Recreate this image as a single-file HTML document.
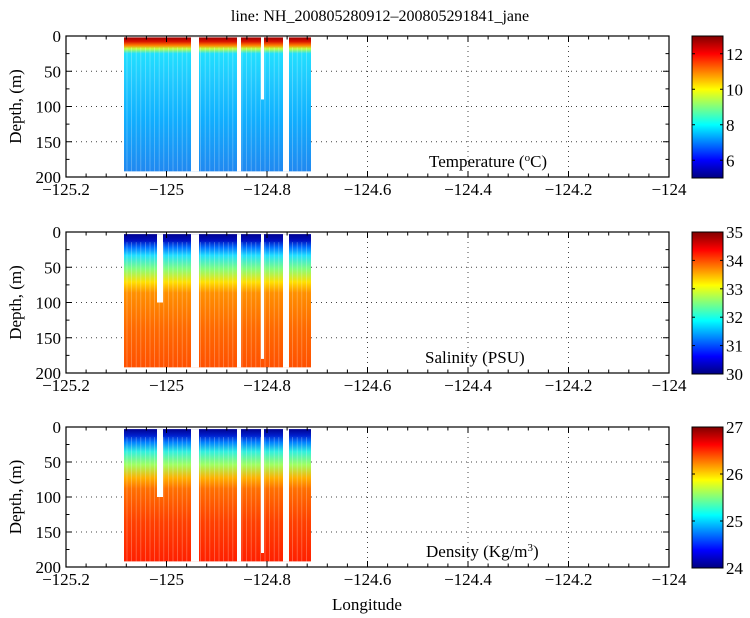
<!DOCTYPE html>
<html><head><meta charset="utf-8"><style>
html,body{margin:0;padding:0;background:#fff;}
svg{display:block;font-family:"Liberation Serif",serif;}
</style></head><body>
<svg id="s" width="750" height="618" xmlns="http://www.w3.org/2000/svg">
<defs>
<linearGradient id="gT" x1="0" y1="0" x2="0" y2="1">
<stop offset="0" stop-color="#a00000"/><stop offset="0.03" stop-color="#d81000"/><stop offset="0.06" stop-color="#ff8000"/><stop offset="0.085" stop-color="#c0ff40"/><stop offset="0.12" stop-color="#20e0ff"/><stop offset="0.3" stop-color="#20ccff"/><stop offset="0.6" stop-color="#10b0ff"/><stop offset="1" stop-color="#2088f0"/>
</linearGradient>
<linearGradient id="gS" x1="0" y1="0" x2="0" y2="1">
<stop offset="0" stop-color="#000090"/><stop offset="0.05" stop-color="#0010c0"/><stop offset="0.1" stop-color="#0070ff"/><stop offset="0.16" stop-color="#20e0ff"/><stop offset="0.26" stop-color="#80ff80"/><stop offset="0.36" stop-color="#ffe000"/><stop offset="0.44" stop-color="#ff9000"/><stop offset="0.7" stop-color="#ff6a00"/><stop offset="1" stop-color="#ff5000"/>
</linearGradient>
<linearGradient id="gD" x1="0" y1="0" x2="0" y2="1">
<stop offset="0" stop-color="#000090"/><stop offset="0.05" stop-color="#0020d0"/><stop offset="0.1" stop-color="#0080ff"/><stop offset="0.17" stop-color="#30f0e0"/><stop offset="0.27" stop-color="#a0ff60"/><stop offset="0.37" stop-color="#ffb000"/><stop offset="0.45" stop-color="#ff7000"/><stop offset="0.7" stop-color="#ff4000"/><stop offset="1" stop-color="#ff2000"/>
</linearGradient>
<linearGradient id="jet" x1="0" y1="1" x2="0" y2="0">
<stop offset="0" stop-color="#000080"/><stop offset="0.125" stop-color="#0000ff"/><stop offset="0.375" stop-color="#00ffff"/><stop offset="0.625" stop-color="#ffff00"/><stop offset="0.875" stop-color="#ff0000"/><stop offset="1" stop-color="#800000"/>
</linearGradient>
</defs>
<text x="380" y="21" font-size="16" text-anchor="middle">line: NH_200805280912–200805291841_jane</text>
<g id="g"></g>
</svg>
<script>
var g=document.getElementById('g'),h='';
var X0=66,X1=669;function xp(v){return X0+(v+125.2)/1.2*(X1-X0);}
var panels=[{t:36,b:177,gr:'gT',cb:[5,13],ticks:[6,8,10,12],lab:'Temperature (<tspan baseline-shift="super" font-size="11">o</tspan>C)',part:[[261,264,0.45]]},
{t:232,b:373,gr:'gS',cb:[30,35],ticks:[30,31,32,33,34,35],lab:'Salinity (PSU)',part:[[157,163,0.5],[261,264,0.9]]},
{t:427,b:567,gr:'gD',cb:[24,27],ticks:[24,25,26,27],lab:'Density (Kg/m<tspan baseline-shift="super" font-size="11">3</tspan>)',part:[[157,163,0.5],[261,264,0.9]]}];
panels.forEach(function(p,i){
 var H=p.b-p.t;function yp(d){return p.t+d/200*H;}
 [-125,-124.8,-124.6,-124.4,-124.2].forEach(function(v){h+='<line x1="'+xp(v)+'" y1="'+p.t+'" x2="'+xp(v)+'" y2="'+p.b+'" stroke="#444" stroke-width="1" stroke-dasharray="1,4"/>';});
 [50,100,150].forEach(function(d){h+='<line x1="'+X0+'" y1="'+yp(d)+'" x2="'+X1+'" y2="'+yp(d)+'" stroke="#444" stroke-width="1" stroke-dasharray="1,4"/>';});
 var top=yp(i==0?2:3),bot=yp(192);
 h+='<rect x="124" y="'+top+'" width="187" height="'+(bot-top)+'" fill="url(#'+p.gr+')"/>';
 for(var x=127;x<311;x+=4.6){h+='<line x1="'+x+'" y1="'+(top+(i==0?10:8))+'" x2="'+x+'" y2="'+bot+'" stroke="#fff" stroke-width="0.8" opacity="0.3"/>';}
 [[191,199,1],[237,241,1],[283,289,1]].concat(p.part).forEach(function(q){var y2=q[2]>=1?bot:yp(q[2]*200);h+='<rect x="'+q[0]+'" y="'+top+'" width="'+(q[1]-q[0])+'" height="'+(y2-top)+'" fill="#fff"/>';});
 h+='<rect x="'+X0+'" y="'+p.t+'" width="'+(X1-X0)+'" height="'+H+'" fill="none" stroke="#000" stroke-width="1.2"/>';
 for(var v=-125.2;v<=-123.99;v+=0.04){var xx=xp(v),maj=Math.abs(Math.round(v*5)-v*5)<0.01,L=maj?6:3.5;
  h+='<line x1="'+xx+'" y1="'+p.b+'" x2="'+xx+'" y2="'+(p.b-L)+'" stroke="#000"/><line x1="'+xx+'" y1="'+p.t+'" x2="'+xx+'" y2="'+(p.t+L)+'" stroke="#000"/>';
  if(maj){var r=Math.round(v*10)/10;var s=(r==-125||r==-124)?String(r):r.toFixed(1);h+='<text x="'+xx+'" y="'+(p.b+18)+'" font-size="17" text-anchor="middle">'+s.replace('-','\u2212')+'</text>';}}
 for(var d=0;d<=200;d+=25){var yy=yp(d),L=d%50==0?6:3.5;h+='<line x1="'+X0+'" y1="'+yy+'" x2="'+(X0+L)+'" y2="'+yy+'" stroke="#000"/><line x1="'+X1+'" y1="'+yy+'" x2="'+(X1-L)+'" y2="'+yy+'" stroke="#000"/>';
  if(d%50==0)h+='<text x="'+(X0-5)+'" y="'+(yy+6)+'" font-size="17" text-anchor="end">'+d+'</text>';}
 h+='<text transform="translate(21,'+(p.t+H/2)+') rotate(-90)" font-size="17" text-anchor="middle">Depth, (m)</text>';
 h+='<text x="'+(i==0?429:i==1?425:426)+'" y="'+(p.b-10)+'" font-size="17">'+p.lab+'</text>';
 h+='<rect x="692" y="'+p.t+'" width="31" height="'+(H+1)+'" fill="url(#jet)" stroke="#000" stroke-width="1"/>';
 p.ticks.forEach(function(v){var yy=p.b+1-(v-p.cb[0])/(p.cb[1]-p.cb[0])*(H+1);h+='<line x1="692" y1="'+yy+'" x2="695" y2="'+yy+'" stroke="#000"/><line x1="723" y1="'+yy+'" x2="720" y2="'+yy+'" stroke="#000"/><text x="726" y="'+(yy+6)+'" font-size="17">'+v+'</text>';});
});
h+='<text x="367" y="610" font-size="17" text-anchor="middle">Longitude</text>';
g.innerHTML=h;
</script>
</body></html>
